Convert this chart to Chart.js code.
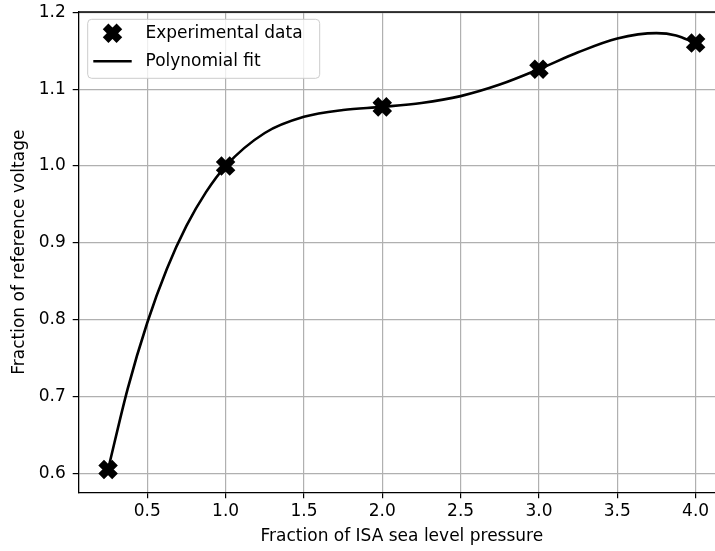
<!DOCTYPE html>
<html>
<head>
<meta charset="utf-8">
<script src="https://cdn.jsdelivr.net/npm/chart.js@4/dist/chart.umd.min.js"></script>
<style>
    html, body { margin: 0; padding: 0; background: #fff; overflow: hidden; }
    #wrap { width: 725px; height: 551px; }
</style>
</head>
<body>
<div id="wrap"><canvas id="fitChart" width="725" height="551"></canvas></div>
<script>
// measured points
const pressure = [0.25, 1.0, 2.0, 3.0, 4.0];
const voltage = [0.605, 1.000, 1.077, 1.126, 1.160];

// fitted curve
const fitX = [0.25, 0.375, 0.5, 0.625, 0.75, 0.875, 1.0, 1.25, 1.5, 1.75, 2.0, 2.25, 2.5, 2.75, 3.0, 3.25, 3.5, 3.75, 3.875, 4.0];
const fitY = [0.605, 0.710, 0.796, 0.866, 0.922, 0.966, 1.000, 1.043, 1.064, 1.073, 1.077, 1.082, 1.091, 1.106, 1.126, 1.148, 1.166, 1.173, 1.170, 1.160];

const xTicks = [0.5, 1.0, 1.5, 2.0, 2.5, 3.0, 3.5, 4.0];
const yTicks = [0.6, 0.7, 0.8, 0.9, 1.0, 1.1, 1.2];

const fontFamily = '"DejaVu Sans", Verdana, sans-serif';
const fontSize = 17;

function drawX(ctx, x, y) {
    const o = 6.9;
    ctx.beginPath();
    ctx.moveTo(x - o, y - o);
    ctx.lineTo(x + o, y + o);
    ctx.moveTo(x - o, y + o);
    ctx.lineTo(x + o, y - o);
    ctx.lineWidth = 8;
    ctx.lineCap = 'butt';
    ctx.strokeStyle = '#000';
    ctx.stroke();
}

// top spine + legend box (matplotlib style)
const framePlugin = {
    id: 'framePlugin',
    afterDraw(chart) {
        const ctx = chart.ctx;
        const a = chart.chartArea;
        ctx.save();
        ctx.beginPath();
        ctx.moveTo(a.left, a.top);
        ctx.lineTo(a.right, a.top);
        ctx.lineWidth = 1.3;
        ctx.strokeStyle = '#000';
        ctx.stroke();

        const x0 = a.left + 9, y0 = a.top + 7.3, w = 232, h = 59, r = 4;
        ctx.beginPath();
        ctx.moveTo(x0 + r, y0);
        ctx.arcTo(x0 + w, y0, x0 + w, y0 + h, r);
        ctx.arcTo(x0 + w, y0 + h, x0, y0 + h, r);
        ctx.arcTo(x0, y0 + h, x0, y0, r);
        ctx.arcTo(x0, y0, x0 + w, y0, r);
        ctx.closePath();
        ctx.fillStyle = 'rgba(255,255,255,0.8)';
        ctx.fill();
        ctx.lineWidth = 1;
        ctx.strokeStyle = '#cccccc';
        ctx.stroke();

        const row1 = y0 + 14, row2 = y0 + 42;
        drawX(ctx, x0 + 24.8, row1);

        ctx.beginPath();
        ctx.moveTo(x0 + 5.6, row2);
        ctx.lineTo(x0 + 44, row2);
        ctx.lineWidth = 2.6;
        ctx.strokeStyle = '#000';
        ctx.stroke();

        ctx.fillStyle = '#000';
        ctx.font = fontSize + 'px ' + fontFamily;
        ctx.textAlign = 'left';
        ctx.textBaseline = 'middle';
        ctx.fillText('Experimental data', x0 + 57.8, row1 + 0.5);
        ctx.fillText('Polynomial fit', x0 + 57.8, row2 + 0.5);
        ctx.restore();
    }
};

const ctx = document.getElementById('fitChart').getContext('2d');
const chart = new Chart(ctx, {
    type: 'scatter',
    data: {
        datasets: [{
            label: 'Experimental data',
            data: pressure.map((p, i) => ({ x: p, y: voltage[i] })),
            showLine: false,
            pointStyle: 'crossRot',
            pointRadius: 9.8,
            pointBorderWidth: 8,
            borderColor: '#000',
            backgroundColor: '#000',
            order: 0
        }, {
            label: 'Polynomial fit',
            data: fitX.map((p, i) => ({ x: p, y: fitY[i] })),
            showLine: true,
            cubicInterpolationMode: 'monotone',
            borderColor: '#000',
            borderWidth: 2.6,
            pointRadius: 0,
            order: 1
        }]
    },
    options: {
        responsive: false,
        animation: false,
        layout: {
            autoPadding: false,
            padding: { top: 12, right: 0, bottom: 0, left: 0 }
        },
        plugins: {
            legend: { display: false },
            tooltip: { enabled: false }
        },
        scales: {
            x: {
                type: 'linear',
                min: 0.0625,
                max: 4.1875,
                afterBuildTicks: function(scale) {
                    scale.ticks = xTicks.map(v => ({ value: v }));
                },
                afterFit: function(scale) {
                    scale.height = 58.7;
                    scale.paddingLeft = 0;
                    scale.paddingRight = 0;
                },
                grid: {
                    color: '#b0b0b0',
                    lineWidth: 1.2,
                    tickColor: '#000',
                    tickLength: 6,
                    tickWidth: 1.2
                },
                border: { display: true, color: '#000', width: 1.3 },
                ticks: {
                    padding: 3.5,
                    color: '#000',
                    maxRotation: 0,
                    font: { family: fontFamily, size: fontSize },
                    callback: v => v.toFixed(1)
                },
                title: {
                    display: true,
                    text: 'Fraction of ISA sea level pressure',
                    color: '#000',
                    padding: { top: 0, bottom: 4 },
                    font: { family: fontFamily, size: fontSize }
                }
            },
            y: {
                type: 'linear',
                min: 0.5753,
                max: 1.2005,
                afterBuildTicks: function(scale) {
                    scale.ticks = yTicks.map(v => ({ value: v }));
                },
                afterFit: function(scale) {
                    scale.width = 78.7;
                    scale.paddingTop = 0;
                    scale.paddingBottom = 0;
                },
                grid: {
                    color: '#b0b0b0',
                    lineWidth: 1.2,
                    tickColor: '#000',
                    tickLength: 6,
                    tickWidth: 1.2
                },
                border: { display: true, color: '#000', width: 1.3 },
                ticks: {
                    padding: 7,
                    color: '#000',
                    font: { family: fontFamily, size: fontSize },
                    callback: v => v.toFixed(1)
                },
                title: {
                    display: true,
                    text: 'Fraction of reference voltage',
                    color: '#000',
                    padding: { top: 9.3, bottom: 0 },
                    font: { family: fontFamily, size: fontSize }
                }
            }
        }
    },
    plugins: [framePlugin]
});
</script>
</body>
</html>
